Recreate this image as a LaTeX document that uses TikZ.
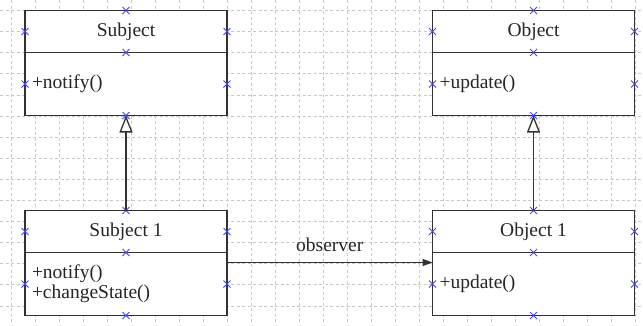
\documentclass[tikz,border=0pt]{standalone}
\usepackage{fontspec}
\setmainfont{Liberation Serif}
\usepackage{tikz}
\usetikzlibrary{arrows.meta, positioning}
\definecolor{gridgray}{RGB}{200, 200, 200}
\definecolor{cptblue}{RGB}{70, 70, 250}
\definecolor{umlline}{RGB}{50, 50, 50}
\newcommand{\umlfont}{\fontsize{19.5}{20}\selectfont}

\begin{document}
\begin{tikzpicture}[
    x=1pt, y=-1pt,
    >=Stealth,
    gridline/.style={gridgray, line width=0.8pt, dash pattern=on 3pt off 2.5pt},
    classhead/.style={rectangle, draw=umlline, fill=white, line width=1.3pt, minimum width=202pt, minimum height=42pt, inner sep=0pt, outer sep=0pt, font=\umlfont, text=black!85},
    classbody/.style={classhead, minimum height=63pt, text width=188pt, inner xsep=7pt, align=left},
    cpt/.style={cptblue, line width=1pt},
    inherit/.style={-{Triangle[open, length=17pt, width=13pt, fill=white]}, umlline, line width=1.3pt},
    assoc/.style={-{Triangle[length=10pt, width=7pt]}, umlline, line width=1.3pt},
    edgelabel/.style={font=\umlfont, text=black!85, inner sep=0pt}
  ]
  \useasboundingbox (0,0) rectangle (643,325);

  % Grid
  \foreach \x in {11,35,...,635} \draw[gridline] (\x,0) -- (\x,325);
  \foreach \y in {10.5,31.6,...,320} \draw[gridline] (0,\y) -- (643,\y);

  % Classes
  \node[classhead] (subj) at (126,31.5) {Subject};
  \node[classbody, below=0pt of subj] (subj-b) {+notify()};
  \node[classhead, right=205.5pt of subj] (obj) {Object};
  \node[classbody, below=0pt of obj] (obj-b) {+update()};

  \node[classhead, below=95pt of subj-b] (subone) {Subject 1};
  \node[classbody, below=0pt of subone] (subone-b) {+notify()\\+changeState()};
  \node[classhead, right=205.5pt of subone] (objone) {Object 1};
  \node[classbody, below=0pt of objone] (objone-b) {+update()};

  % Connection points
  \foreach \c in {subj, obj, subone, objone}
    \foreach \p in {\c.north, \c.west, \c.east, \c.south, \c-b.west, \c-b.east, \c-b.south}
      \draw[cpt] (\p) +(-3.5,-3.5) -- +(3.5,3.5) +(-3.5,3.5) -- +(3.5,-3.5);

  % Relations
  \draw[inherit] (subone) -- (subj-b);
  \draw[inherit] (objone) -- (obj-b);
  \draw[assoc] ([yshift=-10pt]subone-b.north east) -- node[edgelabel, above=10pt] {observer} ([yshift=-10pt]objone-b.north west);

\end{tikzpicture}
\end{document}
